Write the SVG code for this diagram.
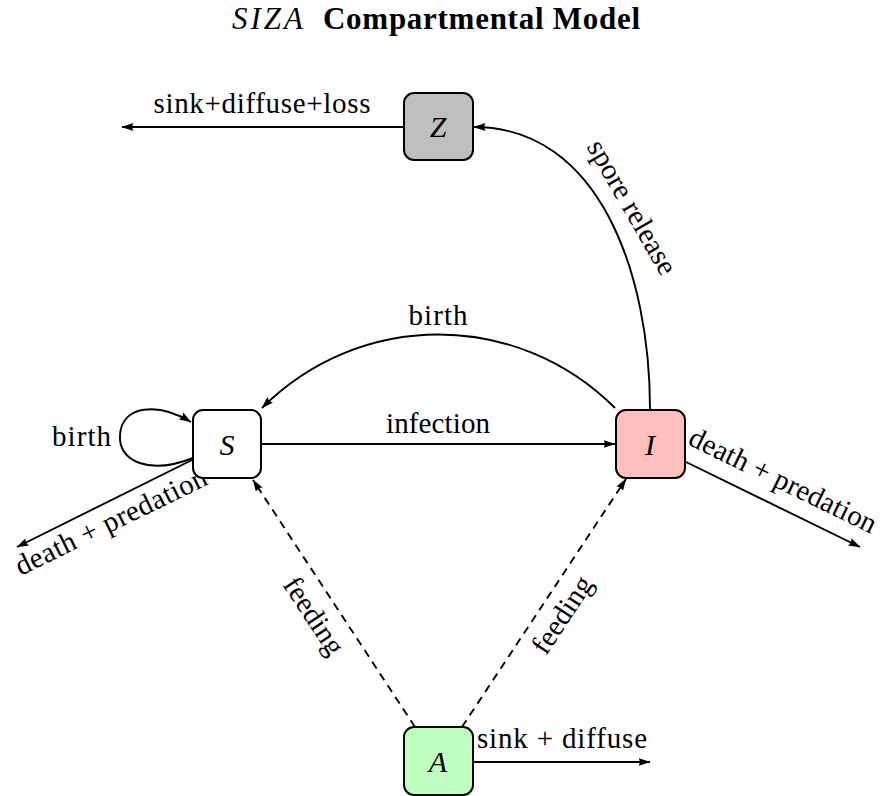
<svg xmlns="http://www.w3.org/2000/svg" width="886" height="796" viewBox="0 0 886 796">
<style>
  .lbl { font-family: "Liberation Serif", "Times New Roman", serif; font-size: 29px; fill: #000; }
  .mid { text-anchor: middle; }
  .var { font-family: "Liberation Serif", "Times New Roman", serif; font-size: 30px; font-style: italic; text-anchor: middle; fill: #000; }
  .box { stroke: #000; stroke-width: 2; }
  .edge { fill: none; stroke: #000; stroke-width: 1.9; marker-end: url(#arr); }
  .dash { stroke-dasharray: 8 6; }
</style>
<defs>
  <marker id="arr" viewBox="0 0 12 9" refX="11.5" refY="4.5" markerWidth="12" markerHeight="9" markerUnits="userSpaceOnUse" orient="auto">
    <path d="M0,0.5 L12,4.5 L0,8.5 Q2.5,4.5 0,0.5 z" fill="#000"/>
  </marker>
</defs>
<rect x="0" y="0" width="886" height="796" fill="#fff"/>

<text x="232" y="29" style="font-family:'Liberation Serif','Times New Roman',serif;font-size:31px;fill:#000"><tspan font-style="italic" letter-spacing="3">SIZA</tspan><tspan x="323" font-weight="bold" textLength="317" lengthAdjust="spacing">Compartmental Model</tspan></text>

<g id="connectors">
  <!-- Z outflow -->
  <path class="edge" d="M403,127 L122,127"/>
  <text class="lbl mid" x="262" y="113" textLength="217" lengthAdjust="spacing">sink+diffuse+loss</text>
  <!-- spore release I -> Z -->
  <path class="edge" d="M650,409 C650,275 600,127 474,127"/>
  <text class="lbl mid" x="624" y="212" transform="rotate(60 624 212)">spore release</text>
  <!-- birth I -> S -->
  <path class="edge" d="M615,408 C517,310 360,310 262,408"/>
  <text class="lbl mid" x="438" y="325" textLength="59" lengthAdjust="spacing">birth</text>
  <!-- infection S -> I -->
  <path class="edge" d="M261,444 L615,444"/>
  <text class="lbl mid" x="438" y="433" textLength="104" lengthAdjust="spacing">infection</text>
  <!-- S self loop -->
  <path class="edge" d="M193,458 C150,475 118,462 120,435 C122,405 158,402 191,422"/>
  <text class="lbl" x="111" y="446" text-anchor="end" textLength="59" lengthAdjust="spacing">birth</text>
  <!-- S death -->
  <path class="edge" d="M192,460 L17,547"/>
  <text class="lbl mid" x="115" y="530" transform="rotate(-26 115 530)" textLength="210" lengthAdjust="spacing">death + predation</text>
  <!-- I death -->
  <path class="edge" d="M686,462 L860,547"/>
  <text class="lbl mid" x="779" y="489" transform="rotate(26 779 489)" textLength="205" lengthAdjust="spacing">death + predation</text>
  <!-- feeding A -> S -->
  <path class="edge dash" d="M415,727 L253,480"/>
  <text class="lbl mid" x="306" y="621" transform="rotate(56.6 306 621)">feeding</text>
  <!-- feeding A -> I -->
  <path class="edge dash" d="M462,727 L626,479"/>
  <text class="lbl mid" x="570" y="620" transform="rotate(-56.6 570 620)">feeding</text>
  <!-- A outflow -->
  <path class="edge" d="M474,762 L650,762"/>
  <text class="lbl mid" x="562" y="748" textLength="170" lengthAdjust="spacing">sink + diffuse</text>
</g>

<g id="node-Z">
  <rect class="box" x="404" y="93" width="69" height="67" rx="10" fill="#bfbfbf"/>
  <text class="var" x="438" y="137">Z</text>
</g>
<g id="node-S">
  <rect class="box" x="193" y="410" width="68" height="68" rx="10" fill="#ffffff"/>
  <text class="var" x="227" y="455">S</text>
</g>
<g id="node-I">
  <rect class="box" x="616" y="410" width="69" height="68" rx="10" fill="#ffbfbf"/>
  <text class="var" x="650" y="455">I</text>
</g>
<g id="node-A">
  <rect class="box" x="404" y="727" width="69" height="68" rx="10" fill="#bfffbf"/>
  <text class="var" x="438" y="772">A</text>
</g>
</svg>
